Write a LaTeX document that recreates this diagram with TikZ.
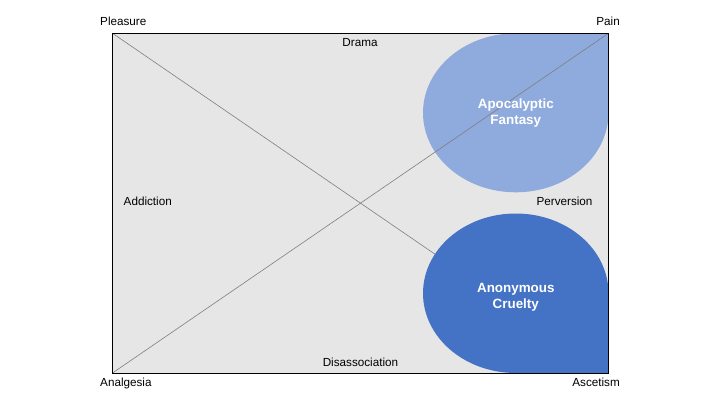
\documentclass[tikz,border=0pt]{standalone}
\usepackage{fontspec}
\setmainfont{Liberation Sans}
\definecolor{panelgray}{HTML}{E7E6E6}
\definecolor{lightblue}{HTML}{8FAADC}
\definecolor{darkblue}{HTML}{4472C4}
\definecolor{diaggray}{HTML}{7F7F7F}
\tikzset{
  lbl/.style={inner sep=0pt, font=\fontsize{11.7bp}{14bp}\selectfont, text=black},
  blobtext/.style={inner sep=0pt, align=center, text=white,
    font=\fontsize{13.4bp}{16bp}\selectfont\bfseries},
  diag/.style={draw=diaggray, line width=0.6bp},
  frame/.style={draw=black, line width=0.8bp},
}
\begin{document}
\begin{tikzpicture}[x=1bp,y=1bp]
\useasboundingbox (0,0) rectangle (720,405);
% corners
\coordinate (PL) at (112.5,371.7);
\coordinate (PA) at (608.5,371.7);
\coordinate (AN) at (112.5,32);
\coordinate (AS) at (608.5,32);
% panel
\fill[panelgray] (AN) rectangle (PA);
% diagonal under the lower shape
\draw[diag] (PL) -- (AS);
% lower teardrop (Anonymous Cruelty)
\fill[darkblue] (608.5,111.75) -- (AS) -- (515.75,32)
  arc[start angle=270, end angle=0, x radius=92.75, y radius=79.75] -- cycle;
% upper teardrop (Apocalyptic Fantasy)
\fill[lightblue] (515.75,371.7) -- (PA) -- (608.5,292.2)
  arc[start angle=0, end angle=-270, x radius=92.75, y radius=79.5] -- cycle;
% diagonal over the upper shape
\draw[diag] (AN) -- (PA);
% frame
\draw[frame] (AN) rectangle (PA);
% labels
\node[lbl, anchor=base west] (pleasure) at (100,380) {Pleasure};
\node[lbl, anchor=base east] (pain) at (620,380) {Pain};
\node[lbl, anchor=base west] (analgesia) at (100,18.5) {Analgesia};
\node[lbl, anchor=base east] (ascetism) at (620,18.5) {Ascetism};
\node[lbl, anchor=base] (drama) at (360,358.3) {Drama};
\node[lbl, anchor=base west] (addiction) at (123.5,200) {Addiction};
\node[lbl, anchor=base east] (perversion) at (592.7,200) {Perversion};
\node[lbl, anchor=base] (disassoc) at (360.5,39) {Disassociation};
\node[blobtext] (apoc) at (515.8,292.2) {Apocalyptic\\Fantasy};
\node[blobtext] (anon) at (515.8,108) {Anonymous\\Cruelty};
\end{tikzpicture}
\end{document}
